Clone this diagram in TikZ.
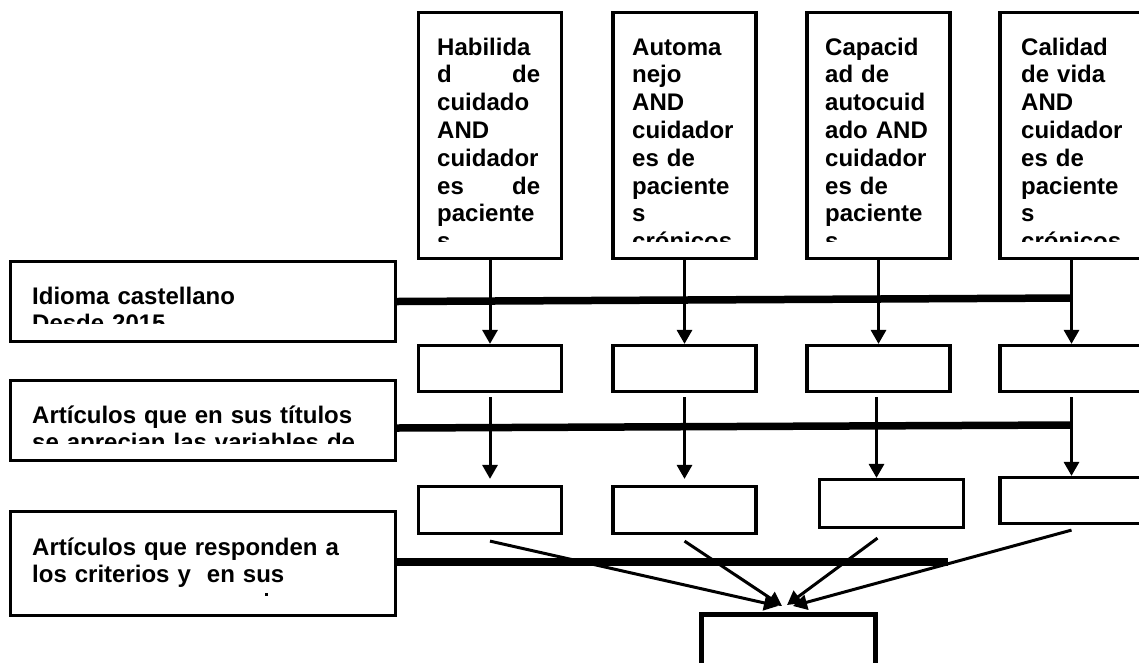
\documentclass[tikz,border=0pt]{standalone}
\usepackage{fontspec}
\setmainfont{Liberation Sans}
\usepackage{tikz}
\usetikzlibrary{arrows.meta}

\begin{document}
\begin{tikzpicture}[x=1pt,y=-1pt,>={Triangle[length=14pt,width=15pt]},
		caja/.style={draw,line width=3.2pt,inner sep=0pt},
		texto/.style={anchor=base west,inner sep=0pt,align=left,text width=#1,
			font=\bfseries\fontsize{24}{27.8}\selectfont},
		flecha/.style={->,line width=3pt},
		barra/.style={line width=7.5pt}]
	\useasboundingbox (0,0) rectangle (1139,662);
	
	% busquedas
	\node[caja,minimum width=143pt,minimum height=246pt] (hab) at (490,135.5) {};
	\node[caja,minimum width=143pt,minimum height=246pt] (auto) at (684.5,135.5) {};
	\node[caja,minimum width=143pt,minimum height=246pt] (capa) at (878.5,135.5) {};
	\node[caja,minimum width=143pt,minimum height=246pt] (cal) at (1071.5,135.5) {};
	
	\begin{scope}
		\clip (hab.north west) rectangle ([yshift=19pt]hab.south east);
		\node[texto=103pt] (habtxt) at (437,55) {Habilida\\d\hfill de\\cuidado\\AND\\cuidador\\es\hfill de\\paciente\\s};
	\end{scope}
	\begin{scope}
		\clip (auto.north west) rectangle ([yshift=19pt]auto.south east);
		\node[texto=106pt] (autotxt) at (632,55) {Automa\\nejo\\AND\\cuidador\\es de\\paciente\\s\\crónicos};
	\end{scope}
	\begin{scope}
		\clip (capa.north west) rectangle ([yshift=19pt]capa.south east);
		\node[texto=106pt] (capatxt) at (825,55) {Capacid\\ad de\\autocuid\\ado AND\\cuidador\\es de\\paciente\\s};
	\end{scope}
	\begin{scope}
		\clip (cal.north west) rectangle ([yshift=19pt]cal.south east);
		\node[texto=106pt] (caltxt) at (1021,55) {Calidad\\de vida\\AND\\cuidador\\es de\\paciente\\s\\crónicos};
	\end{scope}
	
	% filtros
	\node[caja,minimum width=385pt,minimum height=80pt] (idioma) at (203,301.5) {};
	\node[caja,minimum width=385pt,minimum height=80pt] (titulos) at (203,420.5) {};
	\node[caja,minimum width=385pt,minimum height=104pt] (criterios) at (203,563.5) {};
	
	\begin{scope}
		\clip (idioma.north west) rectangle ([yshift=20pt]idioma.south east);
		\node[texto=340pt] (idiomatxt) at (32,304) {Idioma castellano\\Desde 2015};
	\end{scope}
	\begin{scope}
		\clip (titulos.north west) rectangle ([yshift=19pt]titulos.south east);
		\node[texto=340pt] (titulostxt) at (32,423) {Artículos que en sus títulos\\se aprecian las variables de};
	\end{scope}
	\node[texto=340pt] (criteriostxt) at (32,555) {Artículos que responden a\\los criterios y\ \ en sus};
	\fill (265,593) rectangle (268,596);
	
	% resultados
	\node[caja,minimum width=143pt,minimum height=46pt] (m1) at (490,368.5) {};
	\node[caja,minimum width=143pt,minimum height=46pt] (m2) at (684.5,368.5) {};
	\node[caja,minimum width=143pt,minimum height=46pt] (m3) at (878.5,368.5) {};
	\node[caja,minimum width=143pt,minimum height=46pt] (m4) at (1071.5,368.5) {};
	
	\node[caja,minimum width=143pt,minimum height=47pt] (b1) at (490,510) {};
	\node[caja,minimum width=143pt,minimum height=47pt] (b2) at (684.5,510) {};
	\node[caja,minimum width=144pt,minimum height=48pt] (b3) at (891.5,503.5) {};
	\node[caja,minimum width=143pt,minimum height=46pt] (b4) at (1071.5,500.5) {};
	
	\node[caja,line width=5pt,minimum width=174pt,minimum height=64pt] (res) at (788,646.5) {};
	
	\coordinate (c1) at (1072,298);
	\coordinate (c2) at (1072,425);
	\coordinate (c3) at (948,562);
	\draw[barra] (idioma.east) -- (c1);
	\draw[barra] ([yshift=-7.5pt]titulos.east) -- (c2);
	\draw[barra] ([yshift=1.5pt]criterios.east) -- (c3);
	
	\draw[flecha] (hab) -- (m1);
	\draw[flecha] (auto) -- (m2);
	\draw[flecha] (capa) -- (m3);
	\draw[flecha] (cal) -- (m4);
	
	\draw[flecha,shorten <=4pt,shorten >=6pt] (m1) -- (b1);
	\draw[flecha,shorten <=4pt,shorten >=6pt] (m2) -- (b2);
	\draw[flecha,shorten <=4pt] ([xshift=-2pt]m3.south) -- ([xshift=-2pt]m3.south |- b3.north);
	\draw[flecha,shorten <=4pt] (m4) -- (b4);
	
	\draw[flecha] ([yshift=-6pt]b1.south) -- ([xshift=-10pt,yshift=6pt]res.north);
	\draw[flecha] ([yshift=-6pt]b2.south) -- ([xshift=-6pt,yshift=6pt]res.north);
	\draw[flecha] ([xshift=-14pt,yshift=-9pt]b3.south) -- ([xshift=-1pt,yshift=7pt]res.north);
	\draw[flecha] ([yshift=-5pt]b4.south) -- ([xshift=5pt,yshift=6pt]res.north);
\end{tikzpicture}
\end{document}
